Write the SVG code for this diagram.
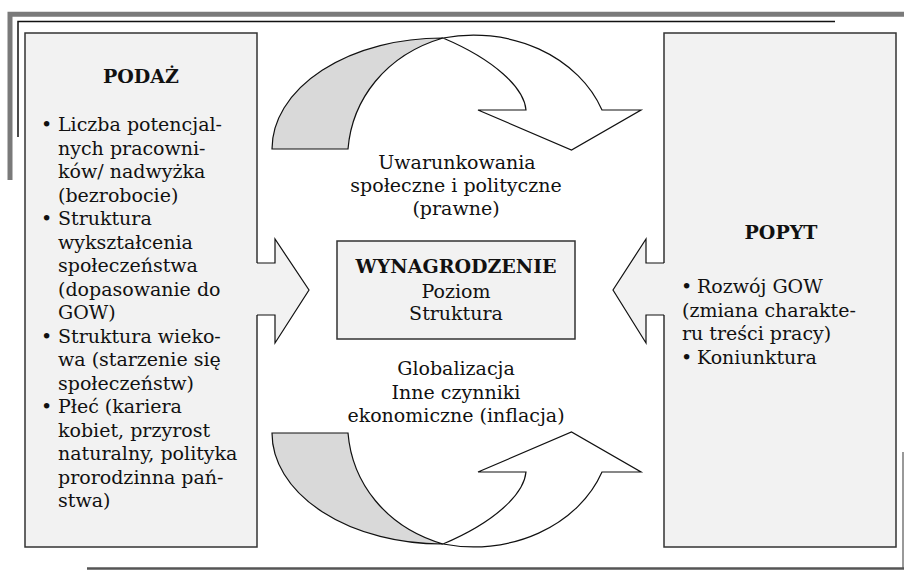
<svg xmlns="http://www.w3.org/2000/svg" width="904" height="574" viewBox="0 0 904 574">
<style>
text{font-family:"DejaVu Serif","Liberation Serif",serif;font-size:19px;fill:#111}
.b{font-weight:bold}
.c{text-anchor:middle}
.box{fill:#f2f2f2;stroke:#333;stroke-width:1.5}
.afill{fill:#f2f2f2;stroke:none}
.aline{fill:none;stroke:#111;stroke-width:1.2;stroke-linejoin:miter}
.gray{fill:#d9d9d9;stroke:#111;stroke-width:1.2}
.white{fill:#fff;stroke:#111;stroke-width:1.2;stroke-linejoin:miter}
</style>
<defs>
<g id="curl">
<path class="gray" d="M272,149 A170,111 0 0 1 443,38 C385,55 352,100 348,149 Z"/>
<path class="white" d="M443,38 A137,115 0 0 1 602,110 H641 L571.5,150 L478,110 H526 C524,88 495,60 443,38 Z"/>
</g>
</defs>
<g id="frame" fill="none">
<path d="M10,180 V14.2 H904" stroke="#7a7a7a" stroke-width="5"/>
<path d="M18,137 V21.5 H835" stroke="#111" stroke-width="1.5"/>
<path d="M87,568.5 H904" stroke="#555" stroke-width="2.5"/>
<path d="M903,452 V568" stroke="#555" stroke-width="1.2"/>
</g>
<g id="podaz">
<rect class="box" x="25" y="33" width="232" height="514"/>
<text class="b c" x="141" y="83">PODAŻ</text>
<text x="41" y="131">•</text>
<text x="58" y="131">Liczba potencjal-</text>
<text x="58" y="154.5">nych pracowni-</text>
<text x="58" y="178">ków/ nadwyżka</text>
<text x="58" y="201.5">(bezrobocie)</text>
<text x="41" y="225">•</text>
<text x="58" y="225">Struktura</text>
<text x="58" y="248.5">wykształcenia</text>
<text x="58" y="272">społeczeństwa</text>
<text x="58" y="295.5">(dopasowanie do</text>
<text x="58" y="319">GOW)</text>
<text x="41" y="342.5">•</text>
<text x="58" y="342.5">Struktura wieko-</text>
<text x="58" y="366">wa (starzenie się</text>
<text x="58" y="389.5">społeczeństw)</text>
<text x="41" y="413">•</text>
<text x="58" y="413">Płeć (kariera</text>
<text x="58" y="436.5">kobiet, przyrost</text>
<text x="58" y="460">naturalny, polityka</text>
<text x="58" y="483.5">prorodzinna pań-</text>
<text x="58" y="507">stwa)</text>
</g>
<g id="popyt">
<rect class="box" x="664" y="33" width="232" height="514"/>
<text class="b c" x="781" y="239">POPYT</text>
<text x="681" y="293">•</text>
<text x="697" y="293">Rozwój GOW</text>
<text x="682" y="316.5">(zmiana charakte-</text>
<text x="682" y="340">ru treści pracy)</text>
<text x="681" y="363.5">•</text>
<text x="697" y="363.5">Koniunktura</text>
</g>
<g id="wynagrodzenie">
<rect class="box" x="337" y="241" width="238" height="98"/>
<text class="b c" x="456" y="273">WYNAGRODZENIE</text>
<text class="c" x="456" y="297.5">Poziom</text>
<text class="c" x="456" y="320">Struktura</text>
</g>
<g id="uwarunkowania">
<use href="#curl"/>
<text class="c" x="457" y="168.5">Uwarunkowania</text>
<text class="c" x="456" y="191.5">społeczne i polityczne</text>
<text class="c" x="456" y="214.5">(prawne)</text>
</g>
<g id="globalizacja">
<use href="#curl" transform="matrix(1,0,0,-1,0,582)"/>
<text class="c" x="456" y="375">Globalizacja</text>
<text class="c" x="456" y="398.5">Inne czynniki</text>
<text class="c" x="456" y="422">ekonomiczne (inflacja)</text>
</g>
<g id="connectors">
<path class="afill" d="M255.5,263 H275 V239 L309,290 L275,343 V315 H255.5 Z"/>
<path class="aline" d="M257,263 H275 V239 L309,290 L275,343 V315 H257"/>
<path class="afill" d="M665.5,263 H646 V239 L613,290 L646,343 V315 H665.5 Z"/>
<path class="aline" d="M664,263 H646 V239 L613,290 L646,343 V315 H664"/>
</g>
</svg>
